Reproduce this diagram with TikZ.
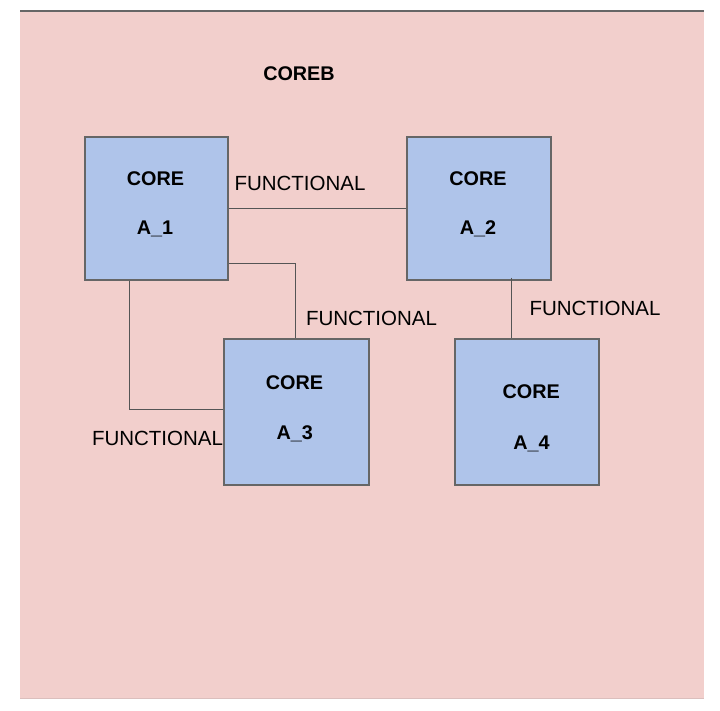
\documentclass[tikz,border=0pt]{standalone}
\usepackage{fontspec}
\setmainfont{Liberation Sans}
\definecolor{bgpink}{HTML}{F2CFCC}
\definecolor{boxblue}{HTML}{AFC4EA}
\definecolor{boxline}{HTML}{666666}
\definecolor{wire}{HTML}{555555}
\begin{document}
\begin{tikzpicture}[x=1pt,y=-1pt,
  core/.style={draw=boxline,fill=boxblue,line width=1.2pt,rectangle,inner sep=0pt},
  lbl/.style={anchor=base,inner sep=0pt,font=\fontsize{20.5}{24}\selectfont},
  blbl/.style={anchor=base,inner sep=0pt,font=\fontsize{19.8}{24}\selectfont\bfseries},
  wirestyle/.style={draw=wire,line width=1pt}]
\useasboundingbox (0,0) rectangle (720,710);
\fill[white] (0,0) rectangle (720,710);
\fill[bgpink] (20,11) rectangle (704,698);
\draw[draw=gray!80!black,line width=1.3pt] (20,11) -- (704,11);
\draw[draw=bgpink!80!gray,line width=0.8pt] (20,698) -- (704,698);
\node[blbl] (title) at (299,80) {COREB};
% boxes
\node[core,minimum width=143pt,minimum height=143pt] (a1) at (156.5,208.5) {};
\node[core,minimum width=144pt,minimum height=143pt] (a2) at (479,208.5) {};
\node[core,minimum width=145pt,minimum height=146pt] (a3) at (296.5,412) {};
\node[core,minimum width=144pt,minimum height=146pt] (a4) at (527,412) {};
% box texts
\node[blbl] (a1c) at (155.5,185) {CORE};
\node[blbl] (a1n) at (155,234) {A\_1};
\node[blbl] (a2c) at (478,185) {CORE};
\node[blbl] (a2n) at (478,234) {A\_2};
\node[blbl] (a3c) at (294.5,389) {CORE};
\node[blbl] (a3n) at (294.7,439) {A\_3};
\node[blbl] (a4c) at (531.3,398) {CORE};
\node[blbl] (a4n) at (531.5,449) {A\_4};
% connectors
\draw[wirestyle] (a1) -- (a2);
\draw[wirestyle] ([yshift=-55pt]a1.east) -| ([xshift=-1.5pt]a3.north);
\draw[wirestyle] ([xshift=-27.5pt]a1.south) |- ([yshift=3pt]a3.west);
\draw[wirestyle] ([xshift=32pt,yshift=3pt]a2.south) -- ([xshift=-16pt]a4.north);
% connector labels
\node[lbl] (f12) at (300,190) {FUNCTIONAL};
\node[lbl] (f13a) at (371.5,325) {FUNCTIONAL};
\node[lbl] (f24) at (595,315) {FUNCTIONAL};
\node[lbl] (f13b) at (157.5,445) {FUNCTIONAL};
\end{tikzpicture}
\end{document}
